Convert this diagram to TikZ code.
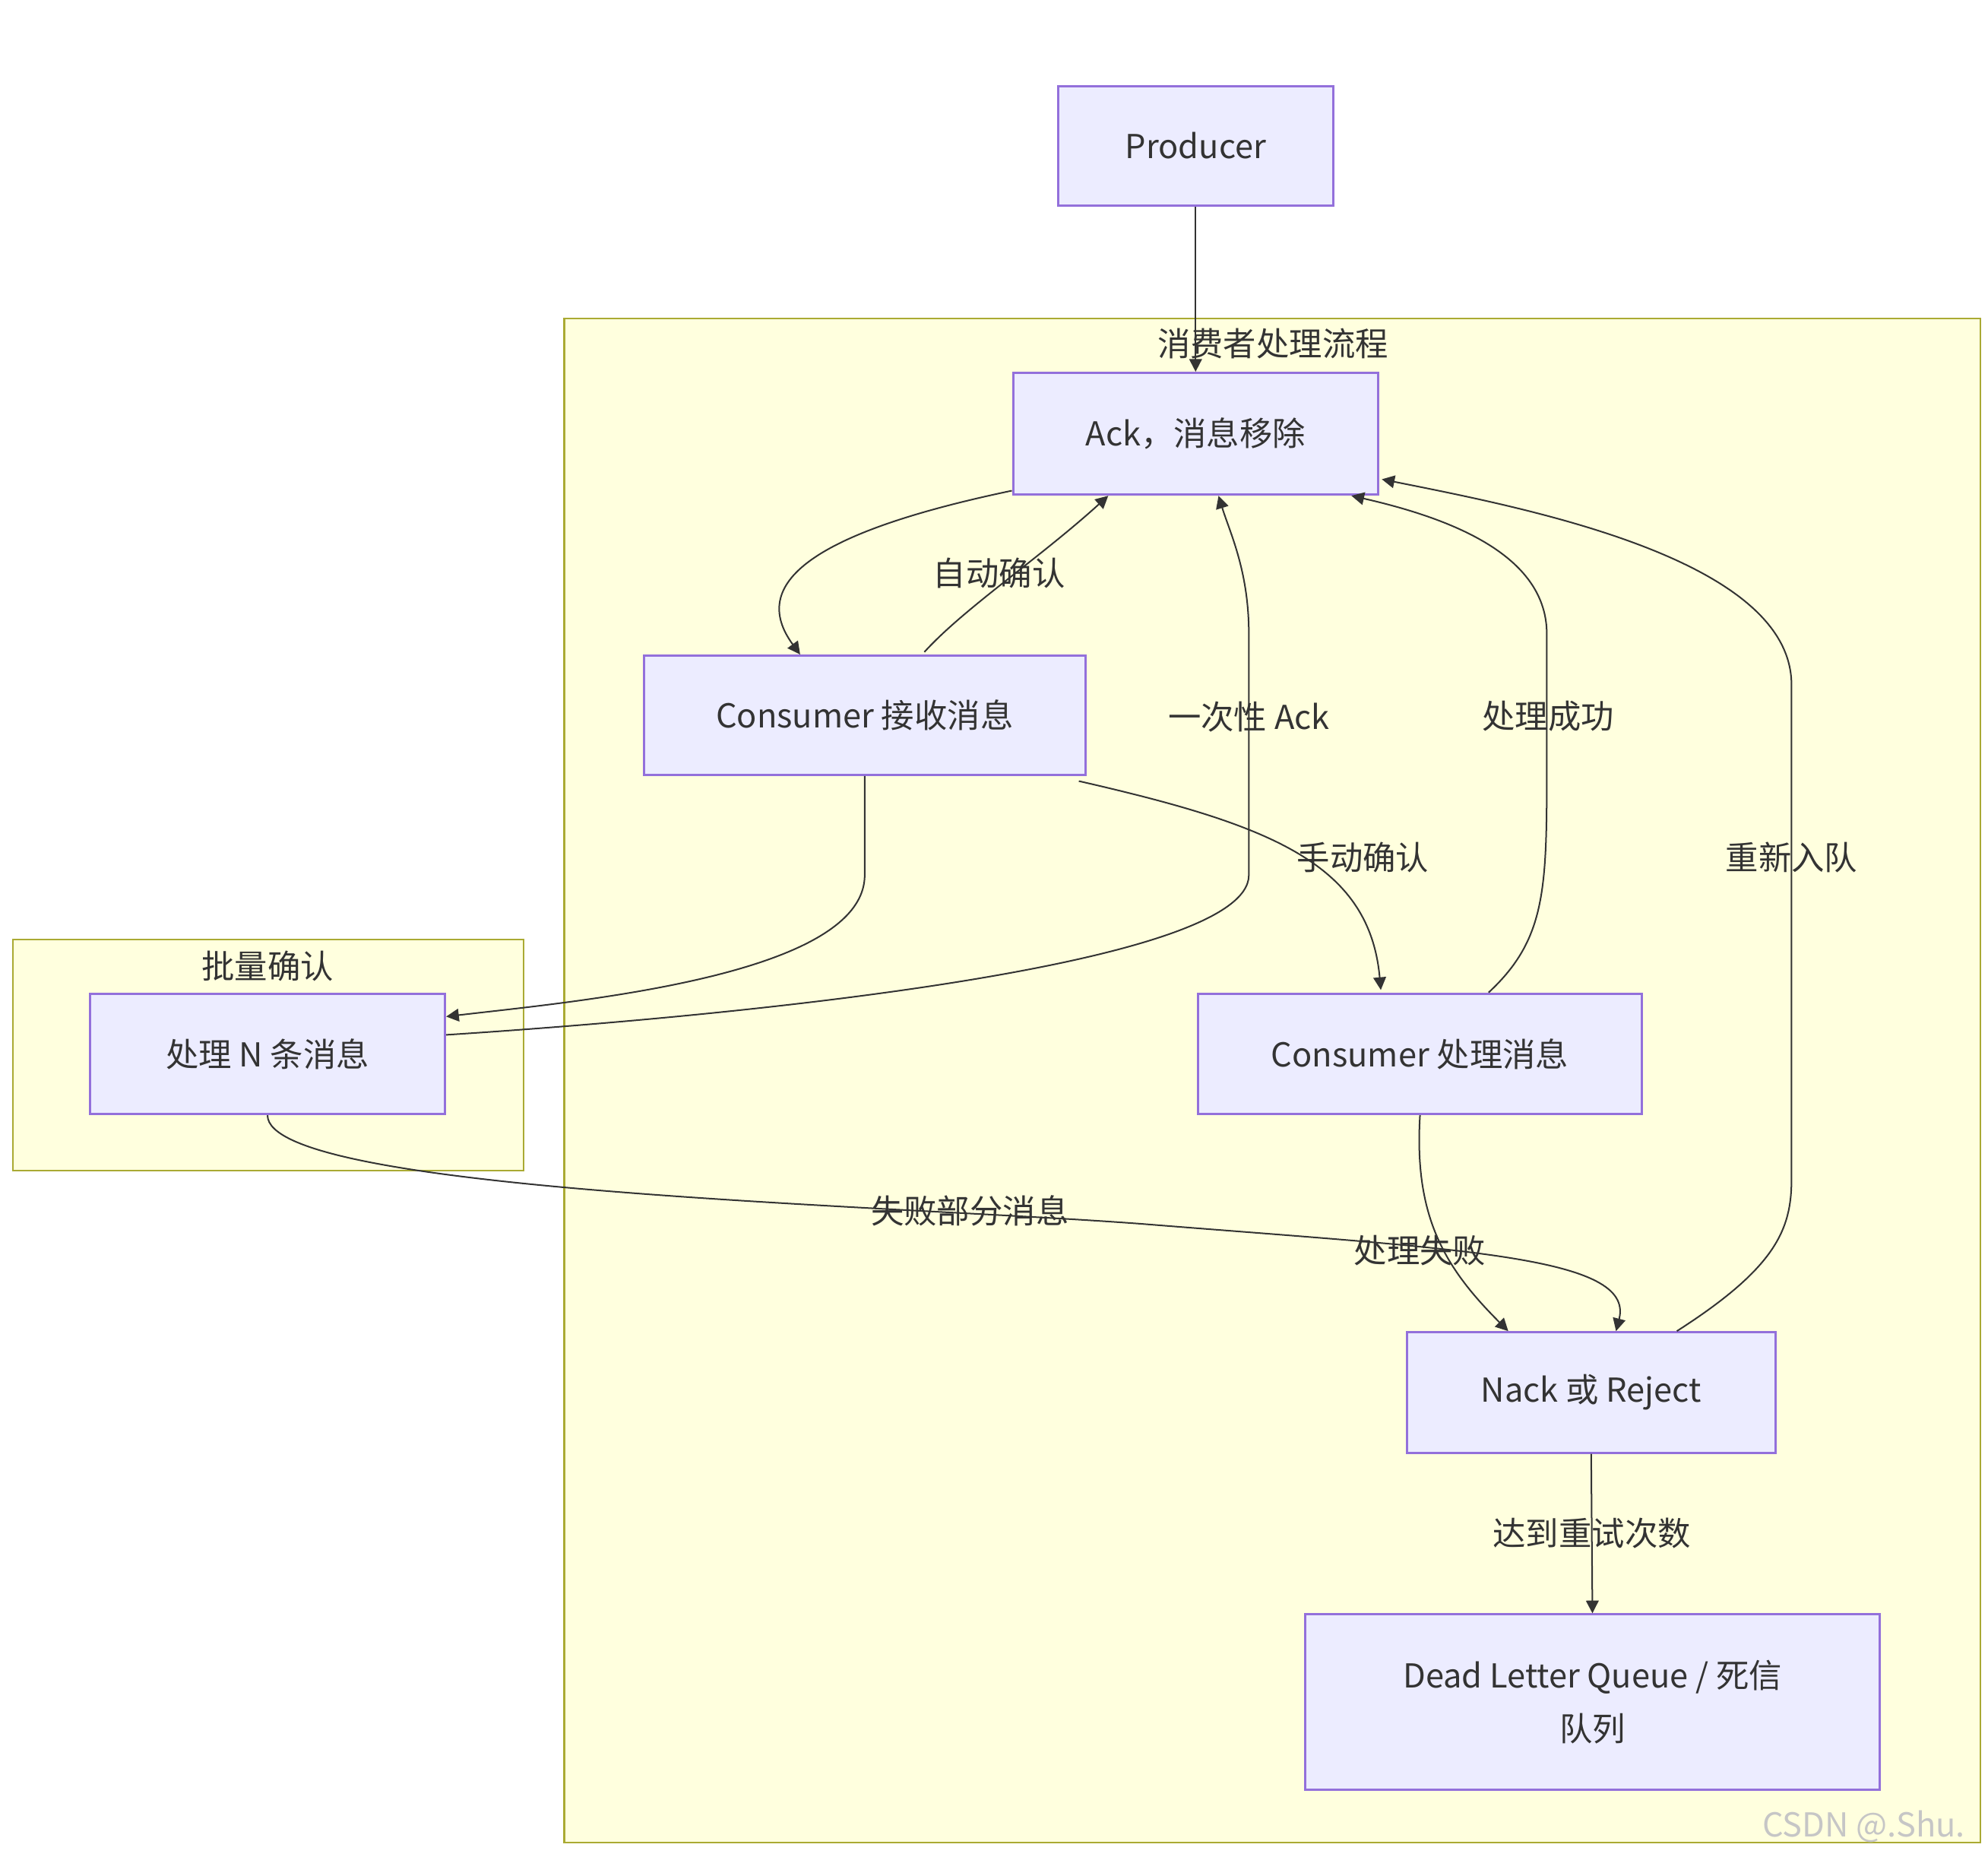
\documentclass[tikz,border=0pt]{standalone}
\usepackage{fontspec}
\setmainfont{Noto Sans CJK SC}
\usetikzlibrary{calc,arrows.meta}
\definecolor{nfill}{HTML}{ECECFF}
\definecolor{nline}{HTML}{9370DB}
\definecolor{cfill}{HTML}{FFFFDE}
\definecolor{cline}{HTML}{AAAA33}
\definecolor{ed}{HTML}{333333}
\begin{document}
\begin{tikzpicture}[x=0.5pt,y=-0.5pt,
  box/.style={draw=nline,fill=nfill,line width=0.9pt,inner sep=0,font=\fontsize{13}{17}\selectfont,text=ed,align=center},
  clus/.style={draw=cline,fill=cfill,line width=0.7pt},
  lab/.style={font=\fontsize{13}{16}\selectfont,text=ed},
  e/.style={draw=ed,line width=0.6pt,-{Triangle[length=5pt,width=5pt]}}]
\useasboundingbox[fill=white] (0,0) rectangle (1568,1464);
% clusters
\path[clus] (445,251) rectangle (1562,1453);
\node[lab] (ct) at (1004,271) {消费者处理流程};
\path[clus] (10,741) rectangle (413,923);
\node[lab] (bt) at (211,762) {批量确认};
% nodes
\node[box,minimum width=108.5pt,minimum height=47pt] (prod) at (943,115) {Producer};
\node[box,minimum width=144pt,minimum height=48pt] (ack) at (943,342) {Ack，消息移除};
\node[box,minimum width=174pt,minimum height=47pt] (recv) at (682,564) {Consumer 接收消息};
\node[box,minimum width=140pt,minimum height=47.5pt] (batch) at (211,831) {处理 N 条消息};
\node[box,minimum width=175pt,minimum height=47.5pt] (proc) at (1120,831) {Consumer 处理消息};
\node[box,minimum width=145.5pt,minimum height=47.5pt] (nack) at (1255,1098) {Nack 或 Reject};
\node[box,minimum width=226.5pt,minimum height=69pt] (dlq) at (1256,1342) {Dead Letter Queue / 死信\\[4pt]队列};
% edges
\draw[e] (prod.south) -- (ack.north);
\draw[e] ($(ack.south west)+(0,-4)$) .. controls (640,420) and (590,460) .. ($(recv.north west)+(124,0)$);
\draw[e] ($(recv.north west)+(222,-2)$) .. controls (760,480) and (820,440) .. ($(ack.south west)+(76,0)$);
\node[lab] (l1) at (788,452) {自动确认};
\draw[e] (recv.south) .. controls (682,650) and (682,680) .. (682,690) .. controls (682,770) and (450,790) .. ($(batch.north east)+(0,19)$);
\draw[e] ($(batch.east)+(0,-15)$) .. controls (600,800) and (985,760) .. (985,690) -- (985,500) .. controls (985,450) and (970,420) .. ($(ack.south west)+(163,0)$);
\node[lab] (l2) at (985,565) {一次性 Ack};
\draw[e] ($(recv.south east)+(-6,4)$) .. controls (1000,650) and (1080,680) .. ($(proc.north west)+(145,-2)$);
\node[lab] (l3) at (1075,676) {手动确认};
\draw[e] ($(proc.north west)+(230,0)$) .. controls (1220,740) and (1220,700) .. (1220,600) -- (1220,500) .. controls (1220,440) and (1150,410) .. ($(ack.south east)+(-22,0)$);
\node[lab] (l4) at (1221,565) {处理成功};
\draw[e] (proc.south) .. controls (1115,960) and (1140,1000) .. ($(nack.north west)+(81,0)$);
\node[lab] (l5) at (1120,986) {处理失败};
\draw[e] (batch.south) .. controls (211,940) and (700,950) .. (900,965) .. controls (1150,985) and (1290,990) .. ($(nack.north west)+(166,0)$);
\node[lab] (l6) at (765,955) {失败部分消息};
\draw[e] ($(nack.north west)+(214,0)$) .. controls (1400,1000) and (1413,970) .. (1413,930) -- (1413,540) .. controls (1413,440) and (1200,400) .. ($(ack.south east)+(2,-13)$);
\node[lab] (l7) at (1413,676) {重新入队};
\draw[e] (nack.south) -- (dlq.north) node[lab,midway] (l8) {达到重试次数};
\node[font=\fontsize{13}{16}\selectfont,text=gray!45] (wm) at (1470,1440) {CSDN @.Shu.};
\end{tikzpicture}
\end{document}
